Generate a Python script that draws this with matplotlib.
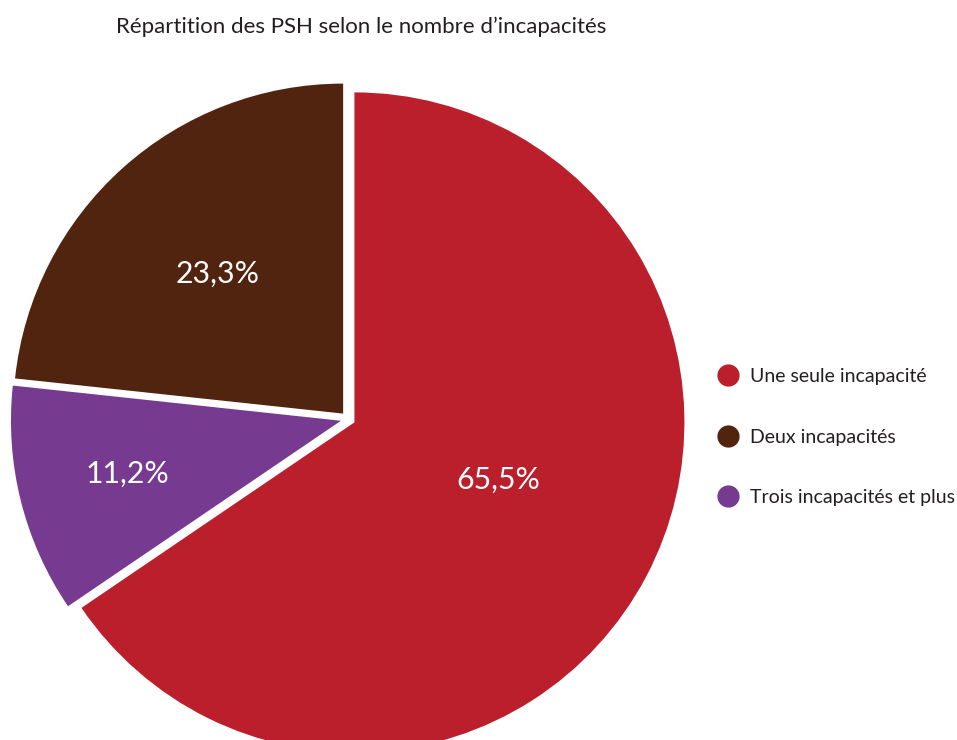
import numpy as np
import matplotlib
matplotlib.use('Agg')
import matplotlib.pyplot as plt
from matplotlib.lines import Line2D

plt.rcParams['font.family'] = ['Lato', 'DejaVu Sans']

# data
categories = ['Une seule incapacité', 'Deux incapacités', 'Trois incapacités et plus']
values = [65.5, 23.3, 11.2]
pct_labels = ['65,5%', '23,3%', '11,2%']
colors = ['#BB1F2C', '#512410', '#773A91']

title = 'Répartition des PSH selon le nombre d\u2019incapacités'
text_color = '#231F20'

fig = plt.figure(figsize=(9.57, 7.40), dpi=100)
ax = fig.add_axes([0, 0, 1, 1])

start = 90 - 360 * values[0] / sum(values)
wedges, _ = ax.pie(values, colors=colors, startangle=start, counterclock=True,
                   explode=[0.022, 0.022, 0.022], radius=1.0, center=(0, 0),
                   wedgeprops=dict(linewidth=0))

# axes in units of the pie radius; pie centre sits at px (348, 419)
# (set after pie(), which resets the limits)
R_px = 330.0
cx, cy = 348, 419
ax.set_xlim(-cx / R_px, (957 - cx) / R_px)
ax.set_ylim(-(740 - cy) / R_px, cy / R_px)
ax.set_aspect('equal')
ax.axis('off')

# percentage labels, placed along each wedge's mid angle
lab_dist = [0.49, 0.59, 0.69]
lab_shift = [6, 0, 0]  # degrees
for w, txt, d, s in zip(wedges, pct_labels, lab_dist, lab_shift):
    th = np.deg2rad((w.theta1 + w.theta2) / 2 + s)
    ax.text(d * np.cos(th), d * np.sin(th), txt, color='white', fontsize=21.8,
            ha='center', va='center')

fig.text(0.377, 1 - 27 / 740, title, ha='center', va='center', fontsize=16,
         color=text_color)

handles = [Line2D([], [], marker='o', linestyle='', markersize=15,
                  markerfacecolor=c, markeredgecolor=c) for c in colors]
fig.legend(handles, categories, loc='center left', bbox_to_anchor=(0.7508, 1 - 437 / 740),
           frameon=False, fontsize=14, handlelength=1.0, handletextpad=0.6,
           labelspacing=2.25, borderpad=0, borderaxespad=0, labelcolor=text_color)

fig.savefig('out.png', dpi=100)
